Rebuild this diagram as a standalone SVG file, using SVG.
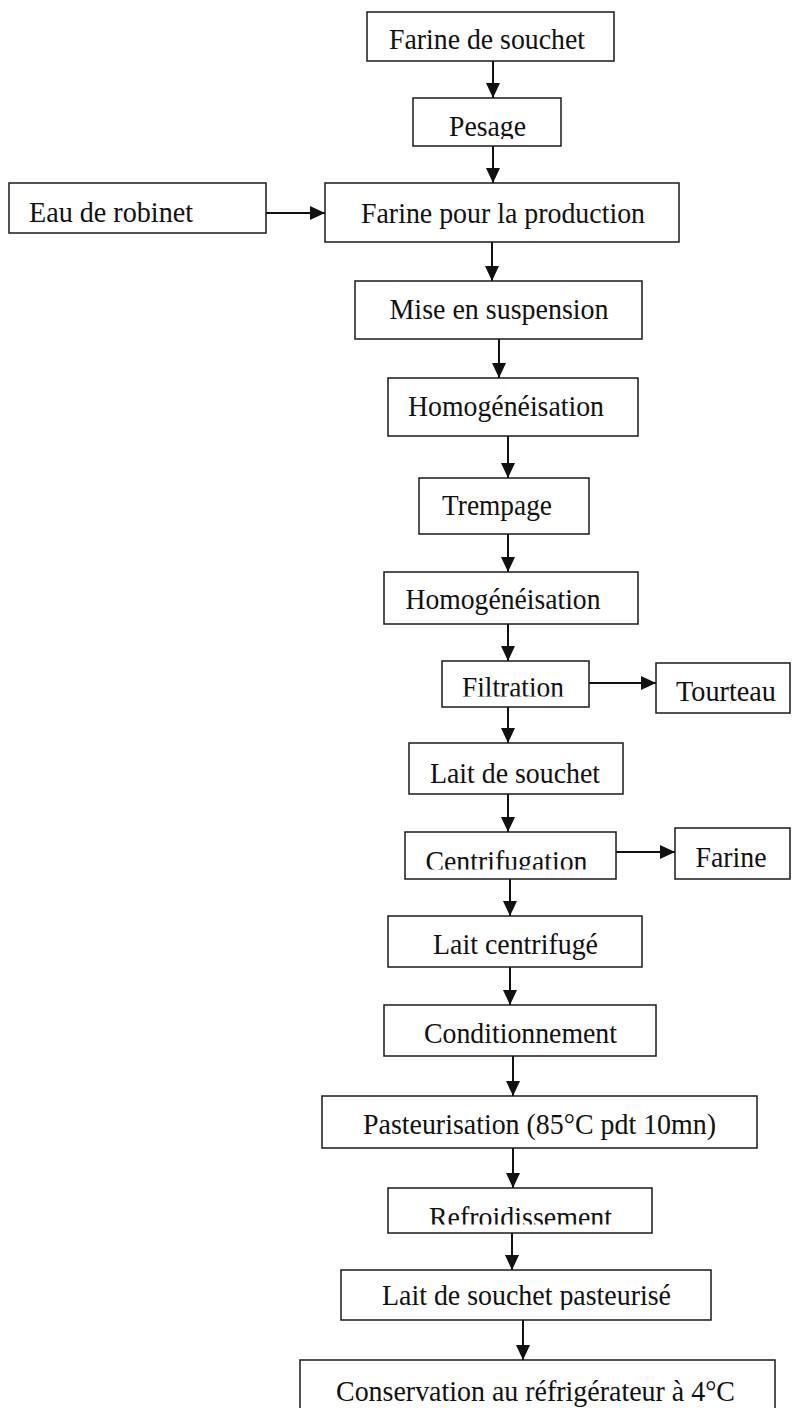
<svg xmlns="http://www.w3.org/2000/svg" width="792" height="1408" viewBox="0 0 792 1408">
<style>
.box{fill:#fff;stroke:#1a1a1a;stroke-width:1.5}
.lbl{font-family:"Liberation Serif","Times New Roman",serif;font-size:30px;fill:#111;text-anchor:middle}
.con{stroke:#111;stroke-width:2;fill:none;marker-end:url(#ah)}
</style>
<defs>
<marker id="ah" markerUnits="userSpaceOnUse" markerWidth="15" markerHeight="14" refX="15" refY="7" orient="auto">
<path d="M0,0 L15,7 L0,14 z" fill="#111"/>
</marker>
<clipPath id="cPes"><rect x="413" y="98" width="148" height="41"/></clipPath>
<clipPath id="cFil"><rect x="442" y="661" width="147" height="35.5"/></clipPath>
<clipPath id="cCen"><rect x="405" y="832" width="211" height="37.5"/></clipPath>
<clipPath id="cRef"><rect x="388" y="1188" width="264" height="36.5"/></clipPath>
<clipPath id="cLsp"><rect x="341" y="1270" width="370" height="40"/></clipPath>
</defs>
<rect width="792" height="1408" fill="#fff"/>
<g id="connectors">
<line class="con" x1="493" y1="61" x2="493" y2="98"/>
<line class="con" x1="493" y1="146" x2="493" y2="183"/>
<line class="con" x1="266" y1="213" x2="325" y2="213"/>
<line class="con" x1="492" y1="242" x2="492" y2="281"/>
<line class="con" x1="499" y1="339" x2="499" y2="378"/>
<line class="con" x1="508" y1="436" x2="508" y2="478"/>
<line class="con" x1="508" y1="534" x2="508" y2="572"/>
<line class="con" x1="508" y1="624" x2="508" y2="661"/>
<line class="con" x1="589" y1="683" x2="656" y2="683"/>
<line class="con" x1="508" y1="707" x2="508" y2="743"/>
<line class="con" x1="508" y1="794" x2="508" y2="832"/>
<line class="con" x1="616" y1="852" x2="675" y2="852"/>
<line class="con" x1="510" y1="879" x2="510" y2="916"/>
<line class="con" x1="510" y1="967" x2="510" y2="1005"/>
<line class="con" x1="513" y1="1056" x2="513" y2="1096"/>
<line class="con" x1="513" y1="1148" x2="513" y2="1188"/>
<line class="con" x1="512" y1="1233" x2="512" y2="1270"/>
<line class="con" x1="523" y1="1320" x2="523" y2="1360"/>
</g>
<g id="n-farine-souchet"><rect class="box" x="367" y="12" width="247" height="49"/><text class="lbl" x="487" y="49" textLength="196" lengthAdjust="spacingAndGlyphs">Farine de souchet</text></g>
<g id="n-pesage"><rect class="box" x="413" y="98" width="148" height="48"/><text class="lbl" x="487.5" y="136" textLength="77" lengthAdjust="spacingAndGlyphs" clip-path="url(#cPes)">Pesage</text></g>
<g id="n-eau"><rect class="box" x="9" y="183" width="257" height="50"/><text class="lbl" x="111" y="222" textLength="164" lengthAdjust="spacingAndGlyphs">Eau de robinet</text></g>
<g id="n-farine-prod"><rect class="box" x="325" y="183" width="354" height="59"/><text class="lbl" x="503" y="223" textLength="284" lengthAdjust="spacingAndGlyphs">Farine pour la production</text></g>
<g id="n-mise"><rect class="box" x="355" y="281" width="287" height="58"/><text class="lbl" x="499" y="319" textLength="219" lengthAdjust="spacingAndGlyphs">Mise en suspension</text></g>
<g id="n-homog1"><rect class="box" x="388" y="378" width="250" height="58"/><text class="lbl" x="506" y="416" textLength="196" lengthAdjust="spacingAndGlyphs">Homogénéisation</text></g>
<g id="n-trempage"><rect class="box" x="419" y="478" width="170" height="56"/><text class="lbl" x="497" y="515" textLength="110" lengthAdjust="spacingAndGlyphs">Trempage</text></g>
<g id="n-homog2"><rect class="box" x="384" y="572" width="254" height="52"/><text class="lbl" x="503" y="609" textLength="195" lengthAdjust="spacingAndGlyphs">Homogénéisation</text></g>
<g id="n-filtration"><rect class="box" x="442" y="661" width="147" height="46"/><text class="lbl" x="513" y="697" textLength="102" lengthAdjust="spacingAndGlyphs" clip-path="url(#cFil)">Filtration</text></g>
<g id="n-tourteau"><rect class="box" x="656" y="663" width="134" height="50"/><text class="lbl" x="726" y="701" textLength="100" lengthAdjust="spacingAndGlyphs">Tourteau</text></g>
<g id="n-lait-souchet"><rect class="box" x="409" y="743" width="214" height="51"/><text class="lbl" x="515" y="783" textLength="170" lengthAdjust="spacingAndGlyphs">Lait de souchet</text></g>
<g id="n-centrifugation"><rect class="box" x="405" y="832" width="211" height="47"/><text class="lbl" x="506.5" y="870.5" textLength="162" lengthAdjust="spacingAndGlyphs" clip-path="url(#cCen)">Centrifugation</text></g>
<g id="n-farine"><rect class="box" x="675" y="828" width="115" height="51"/><text class="lbl" x="731" y="867" textLength="71" lengthAdjust="spacingAndGlyphs">Farine</text></g>
<g id="n-lait-centrifuge"><rect class="box" x="388" y="916" width="254" height="51"/><text class="lbl" x="515.5" y="954" textLength="165" lengthAdjust="spacingAndGlyphs">Lait centrifugé</text></g>
<g id="n-conditionnement"><rect class="box" x="384" y="1005" width="272" height="51"/><text class="lbl" x="520.5" y="1043" textLength="193" lengthAdjust="spacingAndGlyphs">Conditionnement</text></g>
<g id="n-pasteurisation"><rect class="box" x="322" y="1096" width="435" height="52"/><text class="lbl" x="539.5" y="1134" textLength="353" lengthAdjust="spacingAndGlyphs">Pasteurisation (85°C pdt 10mn)</text></g>
<g id="n-refroidissement"><rect class="box" x="388" y="1188" width="264" height="45"/><text class="lbl" x="520.5" y="1226.5" textLength="183" lengthAdjust="spacingAndGlyphs" clip-path="url(#cRef)">Refroidissement</text></g>
<g id="n-lait-pasteurise"><rect class="box" x="341" y="1270" width="370" height="50"/><text class="lbl" x="526.5" y="1305" textLength="289" lengthAdjust="spacingAndGlyphs" clip-path="url(#cLsp)">Lait de souchet pasteurisé</text></g>
<g id="n-conservation"><rect class="box" x="300" y="1360" width="475" height="60"/><text class="lbl" x="535.5" y="1401" textLength="399" lengthAdjust="spacingAndGlyphs">Conservation au réfrigérateur à 4°C</text></g>
</svg>
